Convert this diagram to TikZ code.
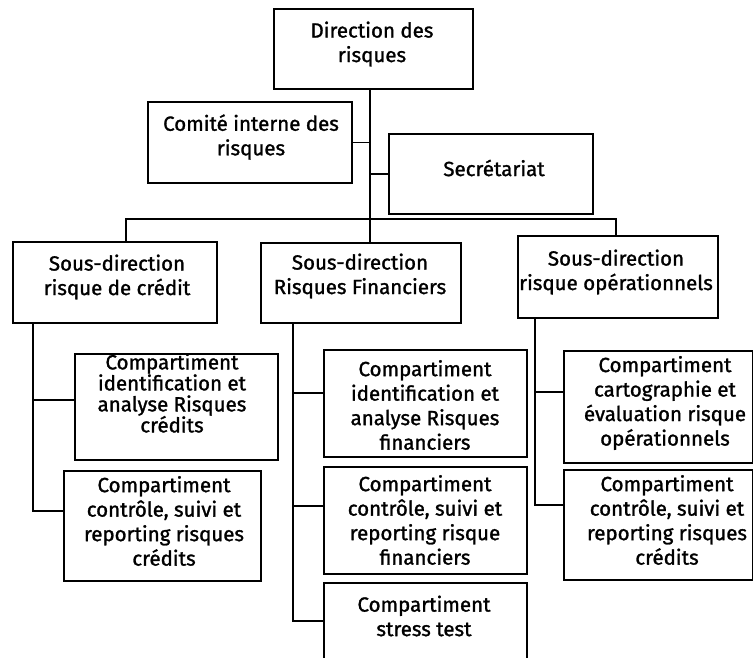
\documentclass[tikz,border=0pt]{standalone}
\usepackage{fontspec}
\setmainfont{Fira Sans}
\newfontfamily\boxfont{Fira Sans}[FakeBold=1.3]
\usetikzlibrary{calc}
\tikzset{
  box/.style={draw, line width=2pt, inner sep=0pt, anchor=north west},
  lbl/.style={align=center, font=\boxfont\fontsize{20.5}{24.5}\selectfont, inner sep=0pt},
  wire/.style={line width=1.5pt},
}
\begin{document}
\begin{tikzpicture}[x=1pt,y=-1pt]
\useasboundingbox (0,0) rectangle (753,658);
\clip (0,0) rectangle (753,658);

% boxes
\node[box, minimum width=199, minimum height=80]  (dir)    at (273,8)   {};
\node[box, minimum width=204, minimum height=81]  (comite) at (147,101) {};
\node[box, minimum width=204, minimum height=80]  (secr)   at (388,133) {};
\node[box, minimum width=204, minimum height=81]  (sdc)    at (12,241)  {};
\node[box, minimum width=200, minimum height=80]  (sdrf)   at (260,242) {};
\node[box, minimum width=200, minimum height=82]  (sdop)   at (517,235) {};
\node[box, minimum width=203, minimum height=106] (ci1)    at (74,353)  {};
\node[box, minimum width=197, minimum height=110] (cc1)    at (63,470)  {};
\node[box, minimum width=203, minimum height=107] (fi1)    at (323,349) {};
\node[box, minimum width=203, minimum height=107] (fc1)    at (323,466) {};
\node[box, minimum width=203, minimum height=100] (fs1)    at (323,582) {};
\node[box, minimum width=189, minimum height=112] (oi1)    at (563,350) {};
\node[box, minimum width=189, minimum height=110] (oc1)    at (563,469) {};

% labels
\node[lbl] (t-dir)    at (372,44)  {Direction des\\risques};
\node[lbl] (t-comite) at (251,137) {Comité interne des\\risques};
\node[lbl] (t-secr)   at (494,168) {Secrétariat};
\node[lbl] (t-sdc)    at (117,277) {Sous-direction\\risque de crédit};
\node[lbl] (t-sdrf)   at (360,276) {Sous-direction\\Risques Financiers};
\node[lbl] (t-sdop)   at (616,272) {Sous-direction\\risque opérationnels};
\node[lbl, font=\boxfont\fontsize{20.5}{21}\selectfont] (t-ci1) at (172,393) {Compartiment\\identification et\\analyse Risques\\crédits};
\node[lbl] (t-cc1)    at (164,521) {Compartiment\\contrôle, suivi et\\reporting risques\\crédits};
\node[lbl] (t-fi1)    at (425,405) {Compartiment\\identification et\\analyse Risques\\financiers};
\node[lbl] (t-fc1)    at (425,520) {Compartiment\\contrôle, suivi et\\reporting risque\\financiers};
\node[lbl] (t-fs1)    at (424,616) {Compartiment\\stress test};
\node[lbl] (t-oi1)    at (665,403) {Compartiment\\cartographie et\\évaluation risque\\opérationnels};
\node[lbl] (t-oc1)    at (667,520) {Compartiment\\contrôle, suivi et\\reporting risques\\crédits};

% trunk and distribution bar
\coordinate (hub) at (370,219);
\coordinate (hl)  at (126,219);
\coordinate (hr)  at (616,219);
\draw[wire] (hub |- dir.south) -- (hub |- sdrf.north);
\draw[wire] (comite.east) -- (comite.east -| hub);
\draw[wire] (secr.west) -- (secr.west -| hub);
\draw[wire] (hl |- sdc.north) -- (hl) -- (hr) -- (hr |- sdop.north);

% branch spines
\coordinate (ls) at (33,0);
\coordinate (ms) at (293,0);
\coordinate (rs) at (535,0);
\draw[wire] (sdc.south -| ls) |- ($(cc1.north west)+(0,41)$);
\draw[wire] (sdc.south -| ls) |- ($(ci1.north west)+(0,47)$);
\draw[wire] (sdrf.south -| ms) |- ($(fs1.north west)+(0,39)$);
\draw[wire] (sdrf.south -| ms) |- ($(fi1.north west)+(0,44)$);
\draw[wire] (sdrf.south -| ms) |- ($(fc1.north west)+(0,40)$);
\draw[wire] (sdop.south -| rs) |- ($(oc1.north west)+(0,36)$);
\draw[wire] (sdop.south -| rs) |- ($(oi1.north west)+(0,42)$);
\end{tikzpicture}
\end{document}
